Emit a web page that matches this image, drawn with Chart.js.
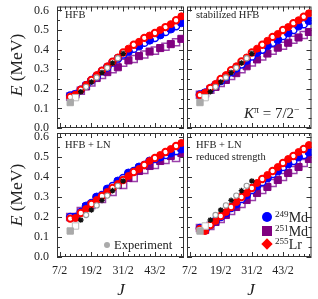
<!DOCTYPE html>
<html>
<head>
<meta charset="utf-8">
<script src="https://cdn.jsdelivr.net/npm/chart.js@4.4.1/dist/chart.umd.min.js"></script>
<style>
  body { margin: 0; background: #fff; }
  #wrap { position: relative; width: 318px; height: 299px; overflow: hidden; font-family: "Liberation Serif", serif; color: #222; }
  #wrap canvas { position: absolute; left: 0; top: 0; }
  .lab { position: absolute; white-space: nowrap; line-height: 1; }
  .sup { font-size: 0.65em; position: relative; top: -0.55em; }
  .mk { position: absolute; }
</style>
</head>
<body>
<div id="wrap">
  <canvas id="pTL" width="318" height="299"></canvas>
  <canvas id="pTR" width="318" height="299"></canvas>
  <canvas id="pBL" width="318" height="299"></canvas>
  <canvas id="pBR" width="318" height="299"></canvas>

  <div class="lab" style="left:17px;top:65px;font-size:17.5px;transform:translate(-50%,-50%) rotate(-90deg)"><i>E</i> (MeV)</div>
  <div class="lab" style="left:17px;top:195px;font-size:17.5px;transform:translate(-50%,-50%) rotate(-90deg)"><i>E</i> (MeV)</div>
  <div class="lab" style="left:121px;top:289px;font-size:17px;transform:translate(-50%,-50%)"><i>J</i></div>
  <div class="lab" style="left:251px;top:289px;font-size:17px;transform:translate(-50%,-50%)"><i>J</i></div>

  <div class="lab" style="left:65px;top:10px;font-size:10.5px">HFB</div>
  <div class="lab" style="left:196px;top:10px;font-size:10.5px">stabilized HFB</div>
  <div class="lab" style="left:244px;top:106px;font-size:15px"><i>K</i><span class="sup">π</span> = 7/2<span class="sup">−</span></div>
  <div class="lab" style="left:65px;top:140px;font-size:10.5px">HFB + LN</div>
  <div class="lab" style="left:196px;top:140px;font-size:10.5px">HFB + LN</div>
  <div class="lab" style="left:196px;top:152px;font-size:10.5px">reduced strength</div>

  <div class="mk" style="left:104px;top:242px;width:6px;height:6px;border-radius:50%;background:#aaa"></div>
  <div class="lab" style="left:114px;top:239px;font-size:12.5px">Experiment</div>

  <div class="mk" style="left:262px;top:212px;width:10px;height:10px;border-radius:50%;background:#0000ff"></div>
  <div class="lab" style="left:275px;top:211px;font-size:14px"><span class="sup">249</span>Md</div>
  <div class="mk" style="left:262px;top:226px;width:10px;height:10px;background:#800080"></div>
  <div class="lab" style="left:275px;top:225px;font-size:14px"><span class="sup">251</span>Md</div>
  <div class="mk" style="left:263px;top:240px;width:8px;height:8px;background:#ff0000;transform:rotate(45deg)"></div>
  <div class="lab" style="left:275px;top:238px;font-size:14px"><span class="sup">255</span>Lr</div>
</div>
<script>
// spins J = 11/2 ... 53/2
const jValues = [5.5, 6.5, 7.5, 8.5, 9.5, 10.5, 11.5, 12.5, 13.5, 14.5, 15.5,
                 16.5, 17.5, 18.5, 19.5, 20.5, 21.5, 22.5, 23.5, 24.5, 25.5, 26.5];
const xTickValues = [3.5, 9.5, 15.5, 21.5];
const yTickValues = [0, 0.1, 0.2, 0.3, 0.4, 0.5, 0.6];

// experiment
const expSquareJ = [5.5, 6.5];
const expSquareE = [0.13, 0.155];
const expBandJ = [7.5, 8.5, 9.5, 10.5, 11.5, 12.5, 13.5, 14.5, 15.5];
const expBandE = [0.185, 0.21, 0.235, 0.258, 0.283, 0.307, 0.332, 0.356, 0.38];

// HFB
const hfbMd249 = [0.165, 0.172, 0.195, 0.218, 0.243, 0.265, 0.29, 0.31, 0.335, 0.355, 0.375,
                  0.39, 0.405, 0.418, 0.435, 0.448, 0.46, 0.475, 0.49, 0.505, 0.52, 0.537];
const hfbMd251 = [0.16, 0.17, 0.19, 0.212, 0.232, 0.255, 0.27, 0.285, 0.3, 0.31, 0.333,
                  0.345, 0.352, 0.367, 0.375, 0.39, 0.395, 0.408, 0.415, 0.428, 0.438, 0.455];
const hfbLr255 = [0.158, 0.17, 0.195, 0.22, 0.245, 0.27, 0.292, 0.315, 0.338, 0.36, 0.385,
                  0.405, 0.425, 0.44, 0.46, 0.472, 0.485, 0.5, 0.515, 0.53, 0.55, 0.57];

// stabilized HFB
const stabMd249 = [0.17, 0.18, 0.2, 0.22, 0.24, 0.262, 0.285, 0.305, 0.325, 0.345, 0.365,
                   0.385, 0.4, 0.42, 0.435, 0.45, 0.47, 0.485, 0.5, 0.52, 0.53, 0.547];
const stabMd251 = [0.17, 0.175, 0.195, 0.21, 0.23, 0.245, 0.265, 0.28, 0.3, 0.315, 0.335,
                   0.35, 0.365, 0.38, 0.395, 0.41, 0.42, 0.435, 0.45, 0.462, 0.475, 0.49];
const stabLr255 = [0.168, 0.18, 0.205, 0.225, 0.25, 0.27, 0.295, 0.315, 0.34, 0.36, 0.385,
                   0.405, 0.425, 0.445, 0.465, 0.48, 0.5, 0.515, 0.535, 0.55, 0.568, 0.585];

// HFB + LN
const lnMd249 = [0.2, 0.2, 0.225, 0.255, 0.27, 0.3, 0.31, 0.34, 0.355, 0.38, 0.395,
                 0.42, 0.43, 0.45, 0.46, 0.48, 0.49, 0.5, 0.51, 0.52, 0.53, 0.54];
const lnMd251 = [0.2, 0.2, 0.23, 0.25, 0.26, 0.295, 0.29, 0.325, 0.325, 0.36, 0.36,
                 0.395, 0.395, 0.43, 0.435, 0.455, 0.46, 0.48, 0.485, 0.505, 0.495, 0.52];
const lnLr255 = [0.192, 0.195, 0.22, 0.24, 0.265, 0.285, 0.305, 0.325, 0.345, 0.365, 0.385,
                 0.405, 0.425, 0.44, 0.46, 0.48, 0.495, 0.51, 0.525, 0.54, 0.555, 0.57];

// HFB + LN, reduced strength
const redMd249 = [0.145, 0.135, 0.16, 0.18, 0.2, 0.22, 0.245, 0.265, 0.29, 0.31, 0.335,
                  0.355, 0.375, 0.395, 0.415, 0.43, 0.45, 0.465, 0.48, 0.5, 0.51, 0.525];
const redMd251 = [0.145, 0.135, 0.155, 0.175, 0.19, 0.21, 0.23, 0.25, 0.265, 0.285, 0.3,
                  0.32, 0.335, 0.35, 0.37, 0.385, 0.4, 0.42, 0.435, 0.45, 0.47, 0.49];
const redLr255 = [0.14, 0.13, 0.16, 0.18, 0.205, 0.225, 0.25, 0.275, 0.3, 0.32, 0.345,
                  0.37, 0.39, 0.41, 0.43, 0.45, 0.47, 0.49, 0.505, 0.525, 0.54, 0.56];

const BLUE = '#0000ff', PURPLE = '#800080', PURPLE_OPEN = '#9a40aa', RED = '#ff0000';

function points(js, es, keep) {
  return js.map((j, i) => ({ x: j, y: es[i] })).filter((p, i) => keep(i));
}

function expSets() {
  return [
    { data: points(expBandJ, expBandE, i => i % 2 === 0), pointStyle: 'star', pointRadius: 2.8,
      borderColor: '#111', backgroundColor: '#111', borderWidth: 1.3 },
    { data: points(expBandJ, expBandE, i => i % 2 === 1), pointStyle: 'circle', pointRadius: 2.6,
      borderColor: '#999', backgroundColor: '#fff', borderWidth: 1.1 },
    { data: points(expSquareJ, expSquareE, i => i === 0), pointStyle: 'rect', pointRadius: 4.5,
      borderColor: '#aaa', backgroundColor: '#aaa', borderWidth: 1 },
    { data: points(expSquareJ, expSquareE, i => i === 1), pointStyle: 'rect', pointRadius: 4.5,
      borderColor: '#bbb', backgroundColor: '#fff', borderWidth: 1 }
  ];
}

// filled markers for J = 13/2, 17/2, ...; open for J = 11/2, 15/2, ...
function modelSets(md249, md251, lr255) {
  const filled = i => i % 2 === 1, open = i => i % 2 === 0;
  return [
    { data: points(jValues, lr255, filled), pointStyle: 'circle', pointRadius: 3.5,
      backgroundColor: RED, borderColor: RED, borderWidth: 1 },
    { data: points(jValues, lr255, open), pointStyle: 'circle', pointRadius: 3.2,
      backgroundColor: '#fff', borderColor: RED, borderWidth: 2 },
    { data: points(jValues, md249, filled), pointStyle: 'circle', pointRadius: 4,
      backgroundColor: BLUE, borderColor: BLUE, borderWidth: 1 },
    { data: points(jValues, md249, open), pointStyle: 'circle', pointRadius: 3.6,
      backgroundColor: '#fff', borderColor: BLUE, borderWidth: 1.5 },
    { data: points(jValues, md251, filled), pointStyle: 'rect', pointRadius: 5,
      backgroundColor: PURPLE, borderColor: PURPLE, borderWidth: 1 },
    { data: points(jValues, md251, open), pointStyle: 'rect', pointRadius: 5,
      backgroundColor: '#fff', borderColor: PURPLE_OPEN, borderWidth: 1.5 }
  ];
}

// frame and inward ticks on all four sides
const frameTicks = {
  id: 'frameTicks',
  beforeDatasetsDraw(chart) {
    const { ctx, chartArea: a, scales: { x, y } } = chart;
    ctx.save();
    ctx.strokeStyle = '#333';
    ctx.lineWidth = 1;
    ctx.beginPath();
    for (let j = 3.5; j <= 27; j += 1) {
      const px = Math.round(x.getPixelForValue(j)) + 0.5;
      const len = (j - 3.5) % 6 === 0 ? 5 : 3;
      ctx.moveTo(px, a.bottom); ctx.lineTo(px, a.bottom - len);
      ctx.moveTo(px, a.top); ctx.lineTo(px, a.top + len);
    }
    for (let k = 0; k <= 12; k++) {
      const py = Math.round(y.getPixelForValue(k * 0.05)) + 0.5;
      const len = k % 2 === 0 ? 5 : 3;
      ctx.moveTo(a.left, py); ctx.lineTo(a.left + len, py);
      ctx.moveTo(a.right, py); ctx.lineTo(a.right - len, py);
    }
    ctx.stroke();
    ctx.strokeRect(a.left + 0.5, a.top + 0.5, a.right - a.left - 1, a.bottom - a.top - 1);
    ctx.restore();
  }
};

// fixed axis box size, no extra label padding
function fitTo(size) {
  return s => {
    if (s.isHorizontal()) s.height = size; else s.width = size;
    s.paddingLeft = s.paddingRight = s.paddingTop = s.paddingBottom = 0;
  };
}

const tickFont = { family: 'Liberation Serif', size: 12 };

function makePanel(id, pad, sets, showX, showY) {
  return new Chart(document.getElementById(id), {
    type: 'scatter',
    data: { datasets: sets },
    options: {
      responsive: false,
      animation: false,
      devicePixelRatio: 1,
      events: [],
      layout: { padding: pad },
      plugins: { legend: { display: false }, tooltip: { enabled: false } },
      scales: {
        x: {
          type: 'linear', min: 3, max: 27, position: 'bottom',
          grid: { display: false, drawTicks: false, tickLength: 0 },
          border: { display: false },
          afterBuildTicks: s => { s.ticks = xTickValues.map(v => ({ value: v })); },
          afterFit: fitTo(showX ? 42 : 0),
          ticks: { display: showX, padding: 7, color: '#222', font: tickFont,
                   maxRotation: 0, autoSkip: false, callback: v => (2 * v) + '/2' }
        },
        y: {
          type: 'linear', min: 0, max: 0.62, position: 'left',
          grid: { display: false, drawTicks: false, tickLength: 0 },
          border: { display: false },
          afterBuildTicks: s => { s.ticks = yTickValues.map(v => ({ value: v })); },
          afterFit: fitTo(showY ? 57 : 0),
          ticks: { display: showY, padding: 8, color: '#222', font: tickFont,
                   autoSkip: false, callback: v => v.toFixed(1) }
        }
      }
    },
    plugins: [frameTicks]
  });
}

makePanel('pTL', { left: 0, top: 4, right: 134, bottom: 171 },
  expSets().concat(modelSets(hfbMd249, hfbMd251, hfbLr255)), false, true);
makePanel('pTR', { left: 187, top: 4, right: 3, bottom: 171 },
  expSets().concat(modelSets(stabMd249, stabMd251, stabLr255)), false, false);
makePanel('pBL', { left: 0, top: 133, right: 134, bottom: 0 },
  expSets().concat(modelSets(lnMd249, lnMd251, lnLr255)), true, true);
makePanel('pBR', { left: 187, top: 133, right: 3, bottom: 0 },
  expSets().concat(modelSets(redMd249, redMd251, redLr255)), true, false);
</script>
</body>
</html>
